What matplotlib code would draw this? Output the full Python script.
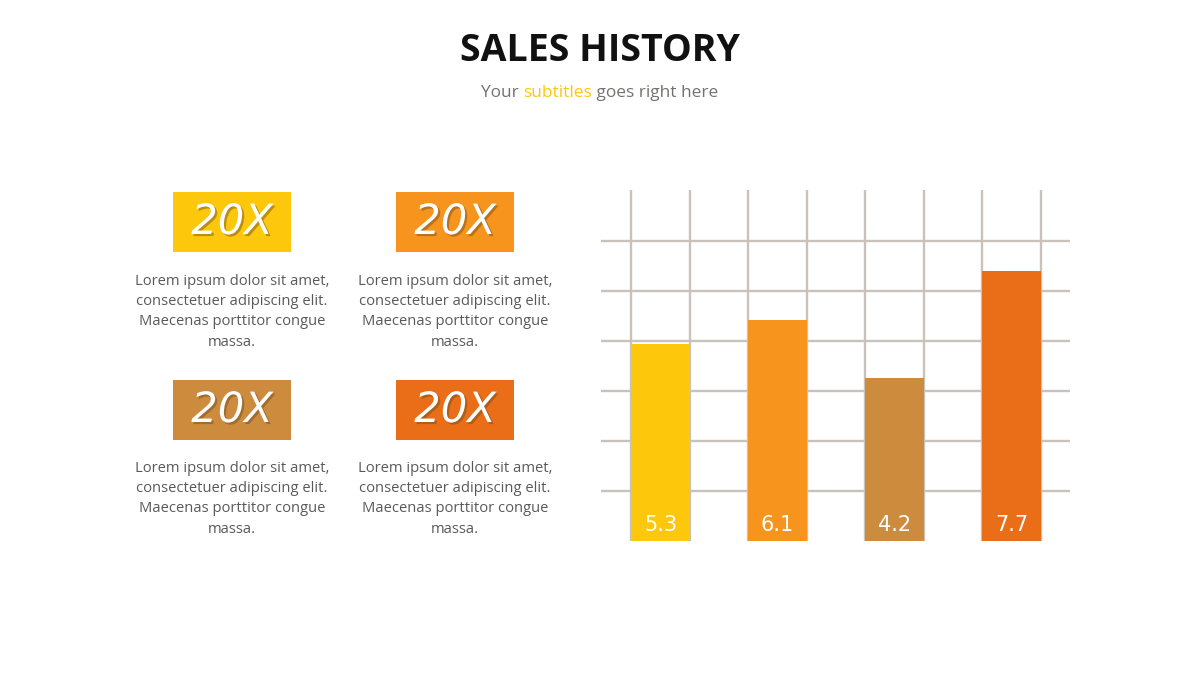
import matplotlib
matplotlib.use('Agg')
import matplotlib.pyplot as plt
import matplotlib.patheffects as pe
import numpy as np

sales = [5.3, 6.1, 4.2, 7.7]
bar_colors = ['#FDC70C', '#F7941D', '#CD8B3E', '#E96E17']
box_labels = ['20X', '20X', '20X', '20X']
blurb = 'Lorem ipsum dolor sit amet,\nconsectetuer adipiscing elit.\nMaecenas porttitor congue\nmassa.'

base = -1.08
px_per_unit = 30.8
step = 50 / px_per_unit

fig = plt.figure(figsize=(12, 6.75), dpi=100)
fig.patch.set_facecolor('white')

# title
fig.text(0.5, 1 - 51 / 675, 'SALES HISTORY', ha='center', va='center',
         fontsize=27, fontweight='bold', family='Open Sans', color='#111111')

# subtitle in three colored pieces
parts = [('Your ', '#767171'), ('subtitles', '#FDC70C'), (' goes right here', '#767171')]
renderer = fig.canvas.get_renderer()
texts = []
for s, c in parts:
    t = fig.text(0, 1 - 93 / 675, s, ha='left', va='center', fontsize=12.4,
                 family='Open Sans', color=c)
    texts.append(t)
widths = [t.get_window_extent(renderer).width for t in texts]
x = 600 - sum(widths) / 2
for t, w in zip(texts, widths):
    t.set_x(x / 1200)
    x += w

# left boxes with blurbs
box_pos = [(232, 222, 281), (455, 222, 281), (232, 410, 468), (455, 410, 468)]
shadow = [pe.SimplePatchShadow(offset=(1.5, -1.5), shadow_rgbFace='#6b4a1a', alpha=0.45),
          pe.Normal()]
for (cx, cy, ty), col, lab in zip(box_pos, bar_colors, box_labels):
    ax_b = fig.add_axes([(cx - 59) / 1200, 1 - (cy + 30) / 675, 118 / 1200, 60 / 675])
    ax_b.set_facecolor(col)
    ax_b.set_xticks([])
    ax_b.set_yticks([])
    for sp in ax_b.spines.values():
        sp.set_visible(False)
    ax_b.text(0.5, 0.5, lab, ha='center', va='center', fontsize=30,
              style='italic', color='white', transform=ax_b.transAxes,
              family='DejaVu Sans', path_effects=shadow)
    fig.text(cx / 1200, 1 - (ty - 7) / 675, blurb, ha='center', va='top',
             fontsize=10.6, color='#595959', family='Open Sans', linespacing=1.47)

# bar chart
ax = fig.add_axes([601 / 1200, 134 / 675, 469 / 1200, 351 / 675])
x = np.arange(len(sales))
vals = np.array(sales)
ax.bar(x, vals - base, bottom=base, width=0.504, color=bar_colors, zorder=3)
ax.set_xlim(-0.51, 3.5)
ax.set_ylim(base, base + 351 / px_per_unit)

for i in x:
    ax.axvline(i - 0.252, color='#C9C2BA', lw=1.7, zorder=1)
    ax.axvline(i + 0.252, color='#C9C2BA', lw=1.7, zorder=1)
for k in range(1, 7):
    ax.axhline(base + k * step, color='#C9C2BA', lw=1.7, zorder=1)

for i, v in zip(x, sales):
    ax.text(i, base + 16 / px_per_unit, f'{v}', ha='center', va='center', fontsize=15,
            color='white', family='DejaVu Sans', zorder=4)

ax.set_xticks([])
ax.set_yticks([])
for sp in ax.spines.values():
    sp.set_visible(False)
ax.patch.set_alpha(0)

fig.savefig('out.png', dpi=100, facecolor='white')
